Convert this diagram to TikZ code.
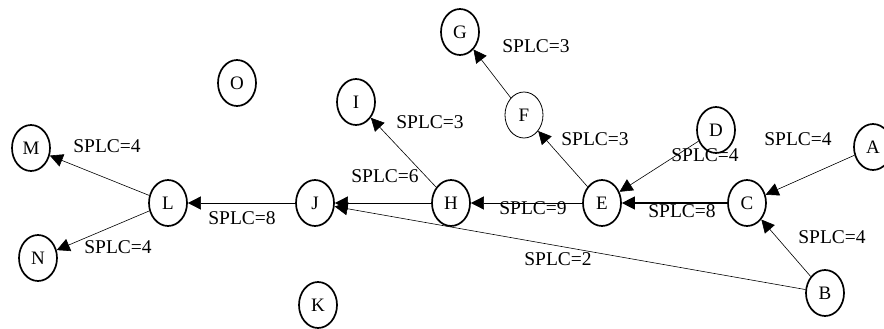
\documentclass[tikz,border=0pt]{standalone}
\usepackage{fontspec}
\setmainfont{Liberation Serif}
\usetikzlibrary{shapes,arrows.meta,positioning}

\begin{document}
\begin{tikzpicture}[
    x=1pt, y=-1pt,
    vertex/.style={ellipse, draw, line width=1.7pt, minimum width=38pt, minimum height=46pt, inner sep=0pt, font=\fontsize{19}{19}\selectfont},
    thin vertex/.style={vertex, line width=0.8pt},
    splc/.style={inner sep=0pt, font=\fontsize{19.5}{20}\selectfont},
    link/.style={-{Triangle[length=13pt,width=13pt]}, line width=0.6pt},
    heavy link/.style={link, line width=1.3pt}
]
\useasboundingbox (0,0) rectangle (884,329);

% Vertices
\node[vertex] (A) at (873,147) {A};
\node[vertex] (B) at (825,293) {B};
\node[vertex] (C) at (747,203) {C};
\node[vertex] (D) at (716,130) {D};
\node[vertex] (E) at (602,203) {E};
\node[thin vertex] (F) at (524,115) {F};
\node[vertex] (G) at (460,32) {G};
\node[vertex] (H) at (451,203) {H};
\node[vertex] (I) at (356,102) {I};
\node[vertex] (J) at (315,203) {J};
\node[vertex] (K) at (318,305) {K};
\node[vertex] (L) at (168,203) {L};
\node[vertex] (M) at (31,148) {M};
\node[vertex] (N) at (38,258) {N};
\node[vertex] (O) at (237,83) {O};

% Links
\draw[link] (A) -- (C);
\draw[link] (B) -- (C);
\draw[heavy link] (C) -- (E);
\draw[link] (D) -- (E);
\draw[link] (E) -- (F);
\draw[link] (F) -- (G);
\draw[link] (E) -- (H);
\draw[link] (H) -- (I);
\draw[link] (H) -- (J);
\draw[link] (B) -- (J);
\draw[link] (J) -- (L);
\draw[link] (L) -- (M);
\draw[link] (L) -- (N);

% Labels
\node[splc] (lblAC) at (798,139) {SPLC=4};
\node[splc] (lblBC) at (832,237) {SPLC=4};
\node[splc] (lblCE) at (682,211) {SPLC=8};
\node[splc] (lblDE) at (705,155) {SPLC=4};
\node[splc] (lblEF) at (595,139) {SPLC=3};
\node[splc] (lblFG) at (536,46) {SPLC=3};
\node[splc] (lblEH) at (533,208) {SPLC=9};
\node[splc] (lblHI) at (430,122) {SPLC=3};
\node[splc] (lblHJ) at (385,176) {SPLC=6};
\node[splc] (lblBJ) at (558,259) {SPLC=2};
\node[splc] (lblJL) at (242,218) {SPLC=8};
\node[splc] (lblLM) at (107,146) {SPLC=4};
\node[splc] (lblLN) at (118,247) {SPLC=4};

\end{tikzpicture}
\end{document}
